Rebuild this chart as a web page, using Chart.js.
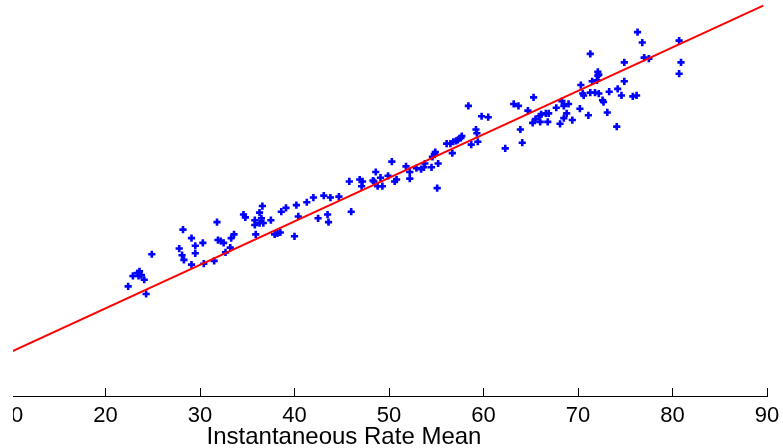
<!DOCTYPE html>
<html>
<head>
<meta charset="utf-8">
<script src="https://cdn.jsdelivr.net/npm/chart.js@4"></script>
<style>
  html, body { margin: 0; padding: 0; background: #fff; }
  #wrap { position: relative; width: 783px; height: 448px; }
  /* the source figure is cropped a little at its left edge */
  #scatterChart { clip-path: inset(0 0 0 13px); }
</style>
</head>
<body>
<div id="wrap"><canvas id="scatterChart"></canvas></div>
<script>
// ---- data ----
const X_TITLE = 'Instantaneous Rate Mean';
const X_TICKS = [10, 20, 30, 40, 50, 60, 70, 80, 90];

const rateX = [
  22.4, 22.9, 23.4, 23.6, 23.8, 23.5, 24.1, 24.3, 24.9, 27.8,
  28.1, 28.3, 28.2, 29.1, 29.1, 29.5, 29.5, 30.3, 30.4, 31.5,
  31.8, 31.9, 32.2, 32.5, 32.7, 33.2, 33.3, 33.6, 34.6, 34.8,
  35.9, 36.6, 36.3, 35.8, 35.8, 36.3, 36.7, 36.5, 37.5, 37.9,
  38.2, 38.5, 40.0, 38.6, 39.1, 40.4, 40.2, 41.3, 42.0, 42.5,
  43.1, 43.5, 43.6, 43.8, 44.7, 45.8, 46.0, 46.9, 47.2, 47.1,
  48.3, 48.4, 48.6, 48.8, 49.3, 49.1, 49.9, 50.3, 50.6, 50.8,
  51.8, 52.2, 52.2, 52.9, 53.4, 53.7, 53.8, 54.5, 54.6, 54.8,
  54.9, 55.2, 55.1, 56.1, 56.5, 56.8, 57.1, 57.3, 57.6, 57.7,
  56.7, 58.4, 58.7, 59.2, 59.3, 59.4, 59.8, 60.5, 62.3, 63.2,
  63.7, 63.9, 64.1, 64.7, 65.3, 65.2, 65.5, 65.9, 66.1, 66.0,
  66.6, 66.9, 66.8, 67.7, 68.1, 68.3, 68.5, 69.0, 68.8, 68.5,
  69.4, 70.2, 70.3, 71.1, 70.5, 70.6, 71.3, 71.8, 72.2, 71.5,
  72.0, 72.6, 72.7, 73.1, 73.3, 74.1, 74.2, 74.6, 74.9, 75.8,
  76.2, 71.3, 72.1, 72.1, 72.2, 74.9, 76.3, 76.8, 77.0, 77.5,
  80.7, 80.9, 80.7
];
const rateY = [
  11.6, 12.7, 13.0, 13.2, 12.8, 12.7, 12.3, 10.8, 15.0, 15.6,
  14.9, 14.4, 17.6, 13.9, 16.7, 15.9, 15.1, 16.2, 14.0, 14.3,
  18.4, 16.5, 16.4, 16.2, 15.2, 15.7, 16.7, 17.1, 19.2, 18.9,
  17.1, 20.1, 19.4, 18.6, 18.1, 18.3, 18.3, 18.8, 18.6, 17.1,
  17.2, 17.3, 16.9, 19.5, 19.9, 19.0, 20.2, 20.5, 21.0, 18.8,
  21.2, 19.2, 18.4, 21.0, 21.1, 22.7, 19.5, 22.9, 22.7, 22.2,
  22.8, 22.7, 23.7, 22.2, 22.2, 23.1, 23.3, 24.8, 22.7, 22.9,
  24.3, 23.7, 23.0, 24.1, 24.0, 24.2, 24.6, 24.2, 25.3, 25.6,
  25.8, 24.6, 22.0, 26.7, 26.7, 26.9, 27.0, 27.1, 27.3, 27.5,
  25.7, 30.7, 26.6, 28.2, 27.8, 26.9, 29.6, 29.5, 26.2, 30.9,
  30.7, 28.2, 26.8, 30.2, 31.6, 28.9, 29.3, 29.6, 29.8, 29.0,
  29.9, 29.9, 29.0, 30.5, 28.8, 31.2, 30.7, 30.9, 29.9, 29.4,
  29.2, 30.4, 32.9, 29.7, 32.0, 31.8, 32.1, 32.1, 32.0, 33.3,
  33.4, 31.3, 31.1, 30.0, 32.2, 28.5, 32.5, 31.8, 33.3, 31.7,
  31.8, 36.2, 33.9, 34.3, 34.0, 35.3, 38.5, 37.4, 35.8, 35.7,
  37.6, 35.3, 34.1
];

// fitted line end points
const fitX = [10, 89.6];
const fitY = [4.67, 41.3];

const Y_MIN = 0;
const Y_MAX = 41.9;

// ---- chart ----
const points = rateX.map(function (x, i) { return { x: x, y: rateY[i] }; });
const fitLine = fitX.map(function (x, i) { return { x: x, y: fitY[i] }; });

// axis caption sits left of the axis centre in the source, so draw it by hand
const axisCaption = {
  id: 'axisCaption',
  afterDraw(chart) {
    const ctx = chart.ctx;
    const area = chart.chartArea;
    ctx.save();
    ctx.font = '24px "Liberation Sans", Arial, sans-serif';
    ctx.fillStyle = '#000';
    ctx.textAlign = 'center';
    ctx.textBaseline = 'alphabetic';
    ctx.fillText(X_TITLE, area.left + 333, 444);
    ctx.restore();
  }
};

new Chart(document.getElementById('scatterChart').getContext('2d'), {
  type: 'scatter',
  data: {
    datasets: [
      {
        label: 'fit',
        data: fitLine,
        showLine: true,
        borderColor: '#ff0000',
        borderWidth: 2,
        pointRadius: 0,
        fill: false,
        order: 0,
      },
      {
        label: 'samples',
        data: points,
        pointStyle: 'cross',
        pointRadius: 3.6,
        borderColor: '#0000ff',
        backgroundColor: '#0000ff',
        borderWidth: 2.6,
        order: 1,
      }
    ]
  },
  options: {
    responsive: true,
    maintainAspectRatio: false,
    animation: false,
    layout: { autoPadding: false, padding: { left: 11, right: 16, top: 0, bottom: 0 } },
    scales: {
      x: {
        type: 'linear',
        min: 10,
        max: 90,
        afterFit: function (s) { s.height = 52; s.paddingLeft = 0; s.paddingRight = 0; },
        afterBuildTicks: function (s) { s.ticks = X_TICKS.map(function (v) { return { value: v }; }); },
        border: { display: true, color: '#000', width: 1 },
        grid: { drawOnChartArea: false, drawTicks: true, tickLength: -8, color: '#000', lineWidth: 1 },
        ticks: {
          autoSkip: false,
          maxRotation: 0,
          minRotation: 0,
          padding: 15,
          color: '#000',
          font: { size: 22, family: '"Liberation Sans", Arial, sans-serif' }
        }
      },
      y: { display: false, min: Y_MIN, max: Y_MAX }
    },
    plugins: {
      legend: { display: false },
      tooltip: { enabled: false }
    }
  },
  plugins: [axisCaption]
});
</script>
</body>
</html>
